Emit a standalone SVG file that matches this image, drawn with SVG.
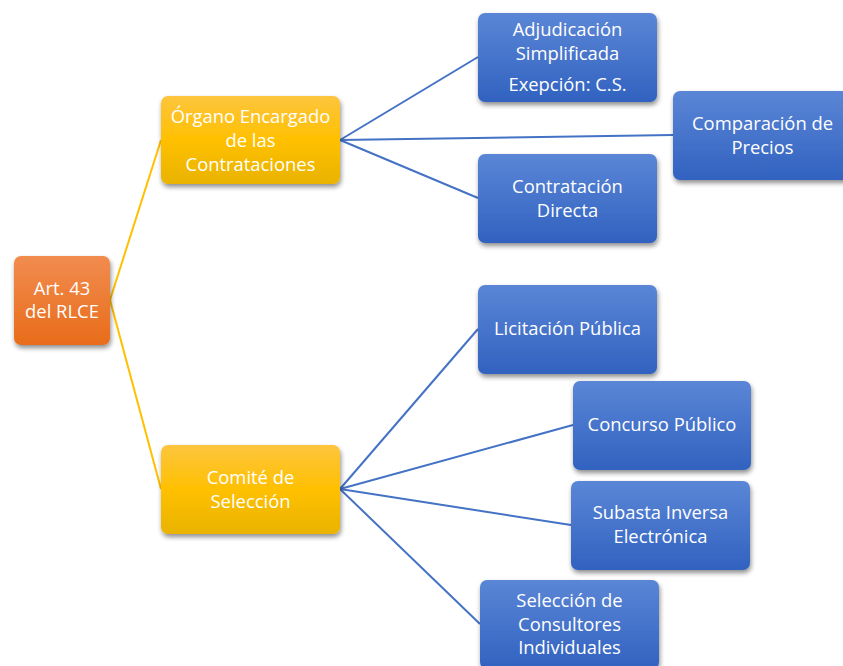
<svg xmlns="http://www.w3.org/2000/svg" width="843" height="666" viewBox="0 0 843 666">
<defs>
<linearGradient id="gBlue" x1="0" y1="0" x2="0" y2="1"><stop offset="0" stop-color="#5b86d6"/><stop offset="1" stop-color="#3162c0"/></linearGradient>
<linearGradient id="gYel" x1="0" y1="0" x2="0" y2="1"><stop offset="0" stop-color="#fdc53e"/><stop offset="0.5" stop-color="#ffc000"/><stop offset="1" stop-color="#e9b300"/></linearGradient>
<linearGradient id="gOr" x1="0" y1="0" x2="0" y2="1"><stop offset="0" stop-color="#f18c4f"/><stop offset="1" stop-color="#e86c1a"/></linearGradient>
<filter id="sh" x="-20%" y="-20%" width="150%" height="150%"><feGaussianBlur in="SourceAlpha" stdDeviation="2.5"/><feOffset dx="1" dy="3"/><feComponentTransfer><feFuncA type="linear" slope="0.45"/></feComponentTransfer><feMerge><feMergeNode/><feMergeNode in="SourceGraphic"/></feMerge></filter>
</defs>
<style>
.b{fill:url(#gBlue);filter:url(#sh)}
.y{fill:url(#gYel);filter:url(#sh)}
.o{fill:url(#gOr);filter:url(#sh)}
text{font-family:"Open Sans","Liberation Sans",sans-serif;font-size:18.4px;fill:#ffffff;text-anchor:middle}
.cb{stroke:#4472c4;stroke-width:2;fill:none}
.cy{stroke:#ffc000;stroke-width:2;fill:none}
</style>
<rect width="843" height="666" fill="#ffffff"/>
<g id="connectors">
<path class="cy" d="M110,300 L161,140"/>
<path class="cy" d="M110,300 L161,489"/>
<path class="cb" d="M340,140 L478,57"/>
<path class="cb" d="M340,140 L673,135"/>
<path class="cb" d="M340,140 L478,198"/>
<path class="cb" d="M340,489 L478,329"/>
<path class="cb" d="M340,489 L573,425"/>
<path class="cb" d="M340,489 L571,525"/>
<path class="cb" d="M340,489 L480,624"/>
</g>
<g id="root"><rect class="o" x="14" y="256" width="96" height="89" rx="7"/><text x="62" y="295">Art. 43</text><text x="62" y="318">del RLCE</text></g>
<g id="organo"><rect class="y" x="161" y="96" width="179" height="88" rx="7"/><text x="250.5" y="123">Órgano Encargado</text><text x="250.5" y="147">de las</text><text x="250.5" y="171">Contrataciones</text></g>
<g id="comite"><rect class="y" x="161" y="445" width="179" height="89" rx="7"/><text x="250.5" y="484">Comité de</text><text x="250.5" y="508">Selección</text></g>
<g id="adjudicacion"><rect class="b" x="478" y="13" width="179" height="89" rx="7"/><text x="567.5" y="36">Adjudicación</text><text x="567.5" y="60">Simplificada</text><text x="567.5" y="91">Exepción: C.S.</text></g>
<g id="comparacion"><rect class="b" x="673" y="91" width="179" height="89" rx="7"/><text x="762.5" y="130">Comparación de</text><text x="762.5" y="154">Precios</text></g>
<g id="directa"><rect class="b" x="478" y="154" width="179" height="89" rx="7"/><text x="567.5" y="193">Contratación</text><text x="567.5" y="217">Directa</text></g>
<g id="licitacion"><rect class="b" x="478" y="285" width="179" height="89" rx="7"/><text x="567.5" y="335">Licitación Pública</text></g>
<g id="concurso"><rect class="b" x="573" y="381" width="178" height="89" rx="7"/><text x="662" y="431">Concurso Público</text></g>
<g id="subasta"><rect class="b" x="571" y="481" width="179" height="89" rx="7"/><text x="660.5" y="519">Subasta Inversa</text><text x="660.5" y="543">Electrónica</text></g>
<g id="seleccion"><rect class="b" x="480" y="580" width="179" height="89" rx="7"/><text x="569.5" y="607">Selección de</text><text x="569.5" y="631">Consultores</text><text x="569.5" y="654">Individuales</text></g>
</svg>
